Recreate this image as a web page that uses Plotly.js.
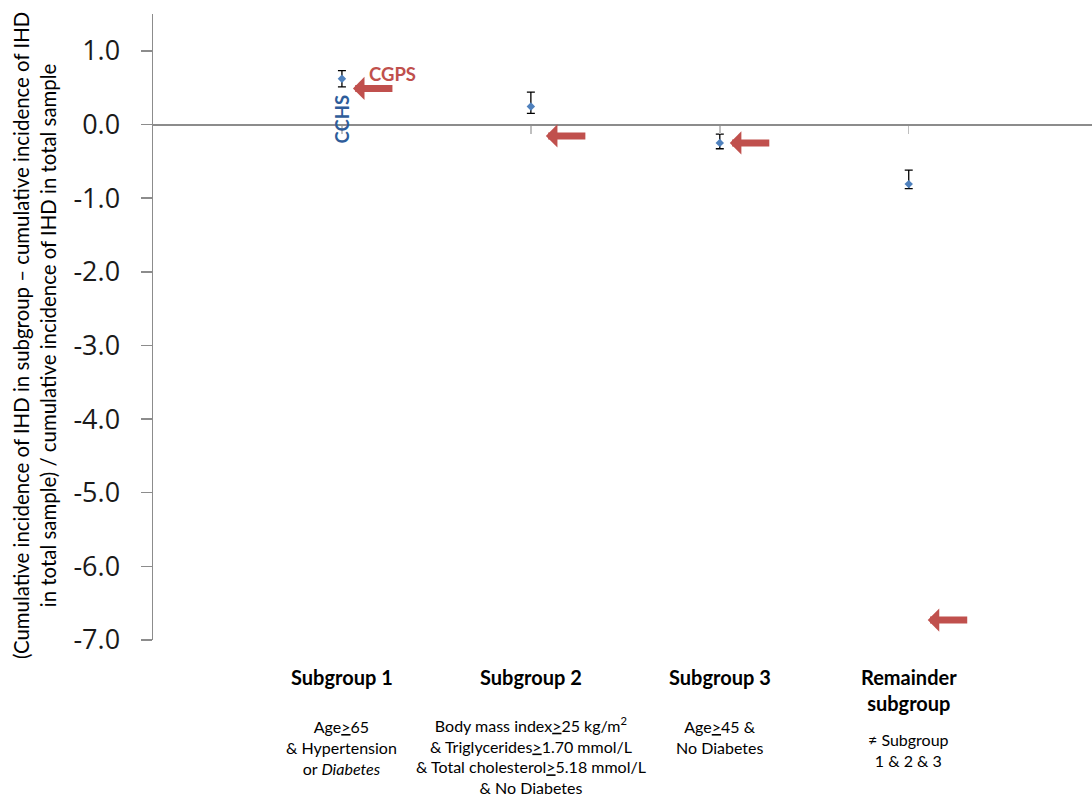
<!DOCTYPE html>
<html>
<head>
<meta charset="utf-8">
<script src="https://cdn.plot.ly/plotly-3.0.1.min.js"></script>
<style>html,body{margin:0;padding:0;background:#fff;}#chart{width:1092px;height:797px;}</style>
</head>
<body>
<div id="chart"></div>
<script>
const categories = ['Subgroup 1', 'Subgroup 2', 'Subgroup 3', 'Remainder subgroup'];
const categoryTitles = ['<b>Subgroup 1</b>', '<b>Subgroup 2</b>', '<b>Subgroup 3</b>', '<b>Remainder</b><br><b>subgroup</b>'];
const categoryDescriptions = [
  'Age<u>&gt;</u>65<br>&amp; Hypertension<br>or <i>Diabetes</i>',
  'Body mass index<u>&gt;</u>25 kg/m<sup>2</sup><br>&amp; Triglycerides<u>&gt;</u>1.70 mmol/L<br>&amp; Total cholesterol<u>&gt;</u>5.18 mmol/L<br>&amp; No Diabetes',
  'Age<u>&gt;</u>45 &amp;<br>No Diabetes',
  '≠ Subgroup<br>1 &amp; 2 &amp; 3'
];
const cchs = [0.62, 0.245, -0.25, -0.81];
const cchsUpper = [0.73, 0.44, -0.13, -0.62];
const cchsLower = [0.51, 0.15, -0.33, -0.87];
const cgps = [0.49, -0.155, -0.25, -6.73];

const yTickVals = [1, 0, -1, -2, -3, -4, -5, -6, -7];
const yTickLabels = ['1.0', '0.0', '-1.0', '-2.0', '-3.0', '-4.0', '-5.0', '-6.0', '-7.0'];

const yTitle = '(Cumulative incidence of IHD in subgroup – cumulative incidence of IHD<br>in total sample) / cumulative incidence of IHD in total sample';

const FONT = 'Lato, "Open Sans", sans-serif';
const TICKFONT = '"Open Sans", sans-serif';
const RED = '#c0504d';
const BLUE = '#4f81bd';
const DARKBLUE = '#2e5c9a';

// layout-only offsets
const arrowShift = [11, 15, 10, 19];
const titleShift = [-37, -37, -37, -50];
const descShift = [-107, -115, -96.5, -109.5];

const trace = {
  type: 'scatter',
  mode: 'markers',
  x: categories,
  y: cchs,
  marker: {symbol: 'diamond', size: 6.5, color: BLUE},
  error_y: {
    type: 'data', symmetric: false,
    array: cchs.map((v, i) => cchsUpper[i] - v),
    arrayminus: cchs.map((v, i) => v - cchsLower[i]),
    color: '#000', thickness: 1.3, width: 4
  },
  hoverinfo: 'x+y'
};

const annotations = [];
categories.forEach((c, i) => {
  annotations.push({
    x: c, y: cgps[i], xref: 'x', yref: 'y',
    text: '', showarrow: true, arrowhead: 1, arrowsize: 0.55, arrowwidth: 7,
    arrowcolor: RED, ax: 41, ay: 0, axref: 'pixel', ayref: 'pixel',
    xshift: arrowShift[i], standoff: 0, startstandoff: 0
  });
  annotations.push({
    x: c, xref: 'x', y: 0, yref: 'paper', yanchor: 'middle', yshift: titleShift[i],
    text: categoryTitles[i], showarrow: false,
    font: {family: FONT, size: 20, color: '#000'}
  });
  annotations.push({
    x: c, xref: 'x', y: 0, yref: 'paper', yanchor: 'middle', yshift: descShift[i],
    text: categoryDescriptions[i], showarrow: false, align: 'center',
    font: {family: FONT, size: 16, color: '#000'}
  });
});
annotations.push({
  x: categories[0], y: 0.08, xref: 'x', yref: 'y', text: '<b>CCHS</b>', textangle: -90,
  showarrow: false, font: {family: FONT, size: 18.5, color: DARKBLUE}
});
annotations.push({
  x: categories[0], y: 0.68, xref: 'x', yref: 'y', xshift: 51, text: '<b>CGPS</b>',
  showarrow: false, font: {family: FONT, size: 18.5, color: RED}
});
annotations.push({
  x: 0, xref: 'paper', xanchor: 'center', xshift: -119,
  y: 0.5, yref: 'paper', yanchor: 'middle', yshift: -9,
  text: yTitle, textangle: -90, showarrow: false, align: 'center',
  font: {family: FONT, size: 20.4, color: '#000'}
});

const layout = {
  width: 1092, height: 797,
  margin: {l: 153, r: 0, t: 14, b: 157},
  paper_bgcolor: '#fff', plot_bgcolor: '#fff',
  showlegend: false,
  xaxis: {
    type: 'category', range: [-1, 3.97],
    showgrid: false, zeroline: false,
    showline: true, linecolor: '#8c8c8c', linewidth: 1.5,
    ticks: 'outside', ticklen: 8, tickwidth: 1.5, tickcolor: '#bfbfbf',
    showticklabels: false,
    anchor: 'free', position: 7 / 8.5
  },
  yaxis: {
    range: [-7, 1.5],
    tickmode: 'array', tickvals: yTickVals, ticktext: yTickLabels,
    showgrid: false, zeroline: false,
    showline: true, linecolor: '#8c8c8c', linewidth: 1.5,
    ticks: 'outside', ticklen: 11, tickwidth: 1.5, tickcolor: '#8c8c8c',
    ticklabelstandoff: 15,
    tickfont: {family: TICKFONT, size: 27, color: '#1a1a1a'}
  },
  annotations: annotations
};

Plotly.newPlot('chart', [trace], layout, {displayModeBar: false, staticPlot: true});
</script>
</body>
</html>
